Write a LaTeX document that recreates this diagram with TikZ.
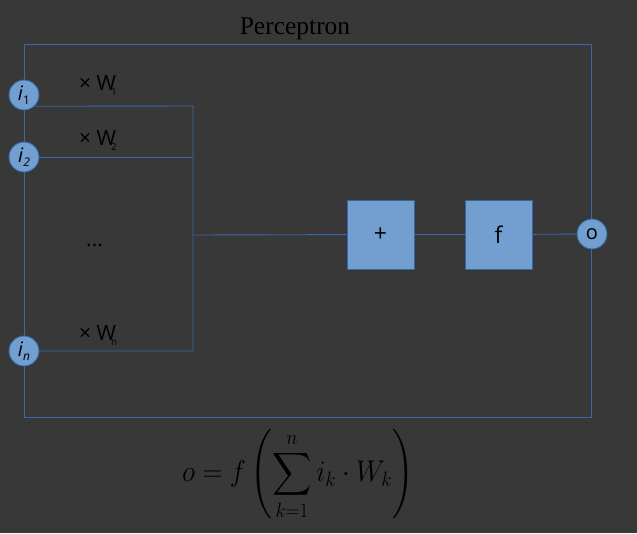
\documentclass[tikz,border=0pt]{standalone}
\usepackage{amsmath}
\usepackage{fontspec}
\newfontfamily\lblfont{Open Sans}
\newfontfamily\ttlfont{Liberation Serif}
\definecolor{bg}{HTML}{383838}
\definecolor{edge}{HTML}{3A68A8}
\definecolor{boxfill}{HTML}{729FCF}
\definecolor{boxedge}{HTML}{3465A4}
\tikzset{
  wire/.style={draw=edge, line width=0.9pt},
  inp/.style={circle, fill=boxfill, draw=boxedge, line width=0.9pt, minimum size=30pt, inner sep=0pt, font=\lblfont\fontsize{20}{22}\selectfont, text=black},
  opbox/.style={rectangle, fill=boxfill, draw=boxedge, line width=0.9pt, minimum width=67pt, minimum height=69pt, inner sep=0pt, font=\lblfont\fontsize{23}{25}\selectfont, text=black},
  wlabel/.style={anchor=base west, inner sep=0pt, font=\lblfont\fontsize{21}{23}\selectfont, text=black},
}
\begin{document}
\begin{tikzpicture}[x=1pt,y=-1pt]
\fill[bg] (0,0) rectangle (637,533);
\useasboundingbox (0,0) rectangle (637,533);
\node[inner sep=0pt, font=\ttlfont\fontsize{25.5}{28}\selectfont, text=black] (title) at (295,29) {Perceptron};
\draw[wire] (24,44) rectangle (591,417);
\coordinate (b1) at (193,106);
\coordinate (bm) at (193,235);
\coordinate (bn) at (193,351);
\node[inp] (i1) at (24,95) {\textit{i}\raisebox{-0.4ex}{\fontsize{12}{12}\selectfont 1}};
\node[inp] (i2) at (24,157) {\textit{i}\raisebox{-0.4ex}{\fontsize{12}{12}\selectfont\textit{2}}};
\node[inp] (in) at (24,351) {\textit{i}\raisebox{-0.4ex}{\fontsize{12}{12}\selectfont\textit{n}}};
\node[opbox] (plus) at (380.5,234.5) {+};
\node[opbox] (f) at (498.5,234.5) {f};
\node[inp] (o) at (592,234) {o};
\draw[wire] (i1.-47) -- (b1) -- (bn) -- (in);
\draw[wire] (i2) -- (i2 -| b1);
\draw[wire] (bm) -- (plus);
\draw[wire] (plus) -- (f);
\draw[wire] (f) -- (o);
\node[wlabel] (w1) at (79,90) {× W\kern-5pt\raisebox{-0.45ex}{\fontsize{10}{10}\selectfont 1}};
\node[wlabel] (w2) at (79,145) {× W\kern-5pt\raisebox{-0.45ex}{\fontsize{10}{10}\selectfont 2}};
\node[wlabel] (wn) at (79,340) {× W\kern-5pt\raisebox{-0.45ex}{\fontsize{10}{10}\selectfont n}};
\node[wlabel] (dots) at (86,246) {...};
\node[inner sep=0pt, text=black, font=\fontsize{24}{28}\selectfont] (eq) at (298,475) {\scalebox{1.1}[1.2]{$\displaystyle o=f\left(\sum_{k=1}^{n} i_k\cdot W_k\right)$}};
\end{tikzpicture}
\end{document}
